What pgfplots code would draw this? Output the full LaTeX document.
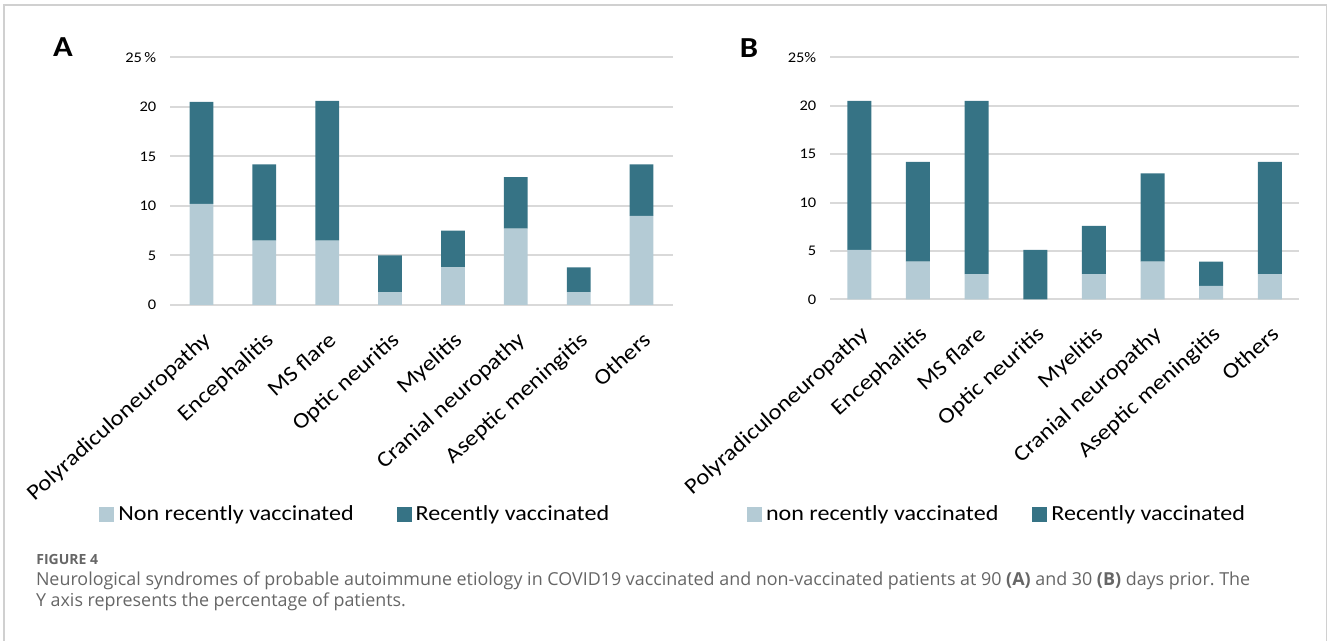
\documentclass[border=0pt]{standalone}
\usepackage{fontspec}
\setmainfont[FakeStretch=1.12]{Carlito}
\newfontfamily\capfont{Open Sans}
\usepackage{pgfplots}
\pgfplotsset{compat=1.18}
\frenchspacing
\definecolor{lightbar}{HTML}{B4CBD5}
\definecolor{darkbar}{HTML}{367385}
\definecolor{gridc}{HTML}{D9D9D9}
\definecolor{capgray}{HTML}{666666}
\definecolor{framec}{HTML}{D0D0D0}
\pgfplotsset{
 mystyle/.style={
  scale only axis,
  ybar stacked,
  ymin=0, ymax=25,
  xmin=-0.5, xmax=7.5,
  ytick={0,5,10,15,20,25},
  xtick={0,...,7},
  xticklabels={Polyradiculoneuropathy,Encephalitis,MS flare,Optic neuritis,Myelitis,Cranial neuropathy,Aseptic meningitis,Others},
  ymajorgrids,
  major grid style={line width=1pt, gridc},
  axis line style={draw=none},
  major tick length=0pt,
  tick style={draw=none},
  /pgf/number format/assume math mode=true,
  yticklabel style={font=\fontsize{7.35}{8}\selectfont, inner sep=0pt, anchor=east, xshift=-6.7pt},
  xticklabel shift=12.5pt,
  xticklabel style={font=\fontsize{11}{12}\selectfont, inner sep=0pt, rotate=42, anchor=north east},
  legend columns=2,
  legend cell align=left,
  legend style={draw=none, fill=none, inner sep=0pt, font=\fontsize{10.75}{12}\selectfont, anchor=west},
  legend image code/.code={\fill[##1] (0pt,-3.75pt) rectangle (7.5pt,3.75pt);},
 }
}
\begin{document}
\begin{tikzpicture}
\useasboundingbox (0,0) rectangle (664pt,320.5pt);
\draw[framec, line width=0.75pt] (2pt,-1pt) -- (2pt,318pt) -- (663.25pt,318pt) -- (663.25pt,-1pt);

% Panel A
\begin{axis}[mystyle,
  at={(85pt,168pt)}, anchor=south west,
  width=251.5pt, height=123.85pt,
  bar width=11.85pt,
  yticklabels={0,5,10,15,20,25\,\%},
  legend style={at={(-0.1412,-0.8478)}, /tikz/every even column/.append style={column sep=19.5pt}},
]
\addplot[fill=lightbar, draw=none] coordinates {(0,10.2) (1,6.5) (2,6.5) (3,1.3) (4,3.8) (5,7.7) (6,1.3) (7,9.0)};
\addplot[fill=darkbar, draw=none] coordinates {(0,10.3) (1,7.7) (2,14.1) (3,3.7) (4,3.7) (5,5.2) (6,2.5) (7,5.2)};
\legend{Non recently vaccinated, Recently vaccinated}
\end{axis}

% Panel B
\begin{axis}[mystyle,
  at={(415pt,170.83pt)}, anchor=south west,
  width=234.6pt, height=121pt,
  bar width=12pt,
  yticklabels={0,5,10,15,20,25\%},
  legend style={at={(-0.1777,-0.891)}, /tikz/every even column/.append style={column sep=15pt}},
]
\addplot[fill=lightbar, draw=none] coordinates {(0,5.1) (1,3.9) (2,2.6) (3,0) (4,2.6) (5,3.9) (6,1.4) (7,2.6)};
\addplot[fill=darkbar, draw=none] coordinates {(0,15.4) (1,10.3) (2,17.9) (3,5.1) (4,5.0) (5,9.1) (6,2.5) (7,11.6)};
\legend{non recently vaccinated, Recently vaccinated}
\end{axis}

\node[font=\bfseries\fontsize{14.5}{16}\selectfont] at (31.5pt,296.75pt) {A};
\node[font=\bfseries\fontsize{14.5}{16}\selectfont] at (374.5pt,296.5pt) {B};

\node[anchor=base west, inner sep=0pt, text=capgray, font=\capfont\bfseries\fontsize{7}{8}\selectfont] at (18pt,38pt) {FIGURE 4};
\node[anchor=base west, inner sep=0pt, text=capgray, font=\capfont\fontsize{8.95}{10}\selectfont] at (17.8pt,27.5pt) {Neurological syndromes of probable autoimmune etiology in COVID19 vaccinated and non-vaccinated patients at 90 \textbf{(A)} and 30 \textbf{(B)} days prior. The};
\node[anchor=base west, inner sep=0pt, text=capgray, font=\capfont\fontsize{8.95}{10}\selectfont] at (17.8pt,17pt) {Y axis represents the percentage of patients.};
\end{tikzpicture}
\end{document}
